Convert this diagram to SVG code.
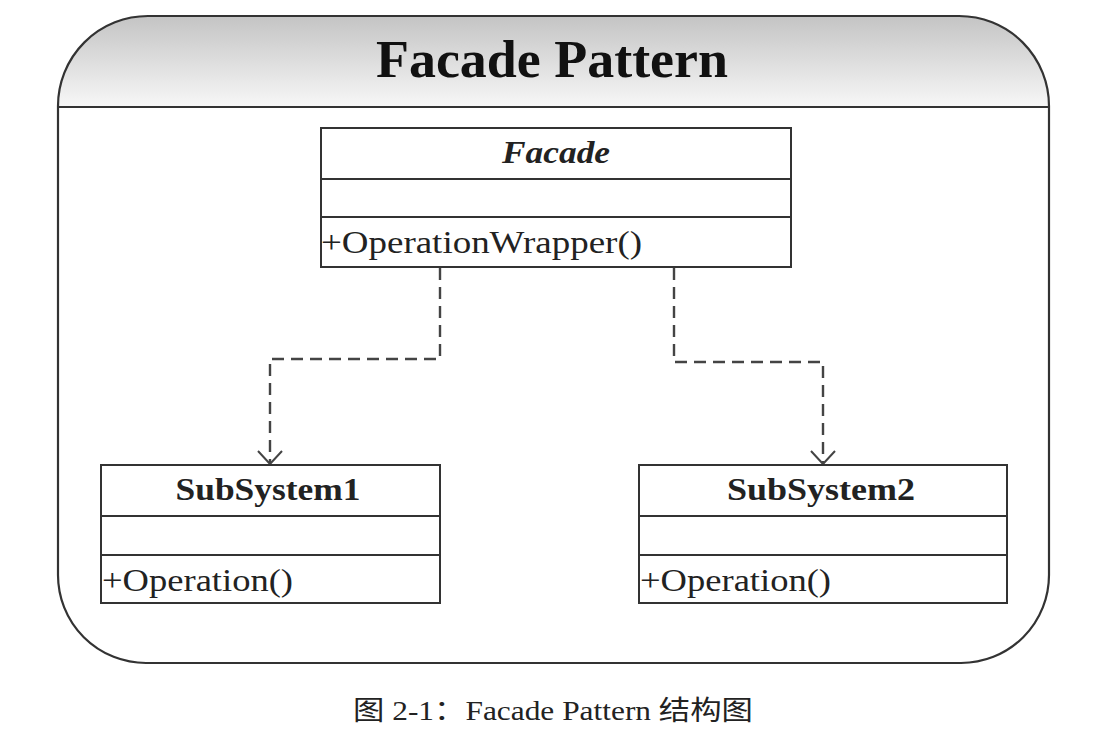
<svg xmlns="http://www.w3.org/2000/svg" width="1111" height="746" viewBox="0 0 1111 746">
<defs>
<linearGradient id="hdr" x1="0" y1="0" x2="0" y2="1">
<stop offset="0" stop-color="#c4c4c4"/>
<stop offset="1" stop-color="#f7f7f7"/>
</linearGradient>
<marker id="open" markerWidth="30" markerHeight="30" viewBox="-15 -15 30 30" refX="0" refY="0" orient="auto" markerUnits="userSpaceOnUse">
<path d="M-13,-12 L0,0 L-13,12" fill="none" stroke="#444" stroke-width="2"/>
</marker>
<clipPath id="frameClip">
<path d="M148,16 H959 A90,90 0 0 1 1049,106 V575 A88,88 0 0 1 961,663 H146 A88,88 0 0 1 58,575 V106 A90,90 0 0 1 148,16 Z"/>
</clipPath>
</defs>
<style>
.box{fill:#fff;stroke:#333;stroke-width:2}
.div{stroke:#333;stroke-width:2}
.cls{font-family:"Liberation Serif",serif;font-weight:bold;font-size:32px;fill:#222;text-anchor:middle}
.op{font-family:"Liberation Serif",serif;font-size:32px;fill:#222}
.dep{fill:none;stroke:#444;stroke-width:2.4;stroke-dasharray:12,7;marker-end:url(#open)}
</style>
<rect width="1111" height="746" fill="#fff"/>
<g id="frame">
<rect x="58" y="16" width="991" height="91" fill="url(#hdr)" clip-path="url(#frameClip)"/>
<path d="M148,16 H959 A90,90 0 0 1 1049,106 V575 A88,88 0 0 1 961,663 H146 A88,88 0 0 1 58,575 V106 A90,90 0 0 1 148,16 Z" fill="none" stroke="#333" stroke-width="2.2"/>
<line x1="58" y1="107" x2="1049" y2="107" stroke="#333" stroke-width="2.2"/>
<text x="552" y="77" font-family="Liberation Serif, serif" font-weight="bold" font-size="52" fill="#111" text-anchor="middle" textLength="352" lengthAdjust="spacingAndGlyphs">Facade Pattern</text>
</g>
<g id="connectors">
<path class="dep" d="M440,268 V359 H270 V464"/>
<path class="dep" d="M674,268 V362 H823 V464"/>
</g>
<g id="facade">
<rect class="box" x="321" y="128" width="470" height="139"/>
<line class="div" x1="321" y1="179" x2="791" y2="179"/>
<line class="div" x1="321" y1="217" x2="791" y2="217"/>
<text class="cls" x="556" y="163" font-style="italic" textLength="108" lengthAdjust="spacingAndGlyphs">Facade</text>
<text class="op" x="321" y="253" textLength="321" lengthAdjust="spacingAndGlyphs">+OperationWrapper()</text>
</g>
<g id="subsystem1">
<rect class="box" x="101" y="465" width="339" height="138"/>
<line class="div" x1="101" y1="516" x2="440" y2="516"/>
<line class="div" x1="101" y1="555" x2="440" y2="555"/>
<text class="cls" x="268" y="500" textLength="185" lengthAdjust="spacingAndGlyphs">SubSystem1</text>
<text class="op" x="102" y="591" textLength="191" lengthAdjust="spacingAndGlyphs">+Operation()</text>
</g>
<g id="subsystem2">
<rect class="box" x="639" y="465" width="368" height="138"/>
<line class="div" x1="639" y1="516" x2="1007" y2="516"/>
<line class="div" x1="639" y1="555" x2="1007" y2="555"/>
<text class="cls" x="821" y="500" textLength="188" lengthAdjust="spacingAndGlyphs">SubSystem2</text>
<text class="op" x="640" y="591" textLength="191" lengthAdjust="spacingAndGlyphs">+Operation()</text>
</g>
<g id="caption">
<text x="553" y="720" font-family="Liberation Serif, Noto Sans CJK SC, serif" font-size="27" fill="#222" text-anchor="middle" textLength="400" lengthAdjust="spacingAndGlyphs">图 2-1：Facade Pattern 结构图</text>
</g>
</svg>
